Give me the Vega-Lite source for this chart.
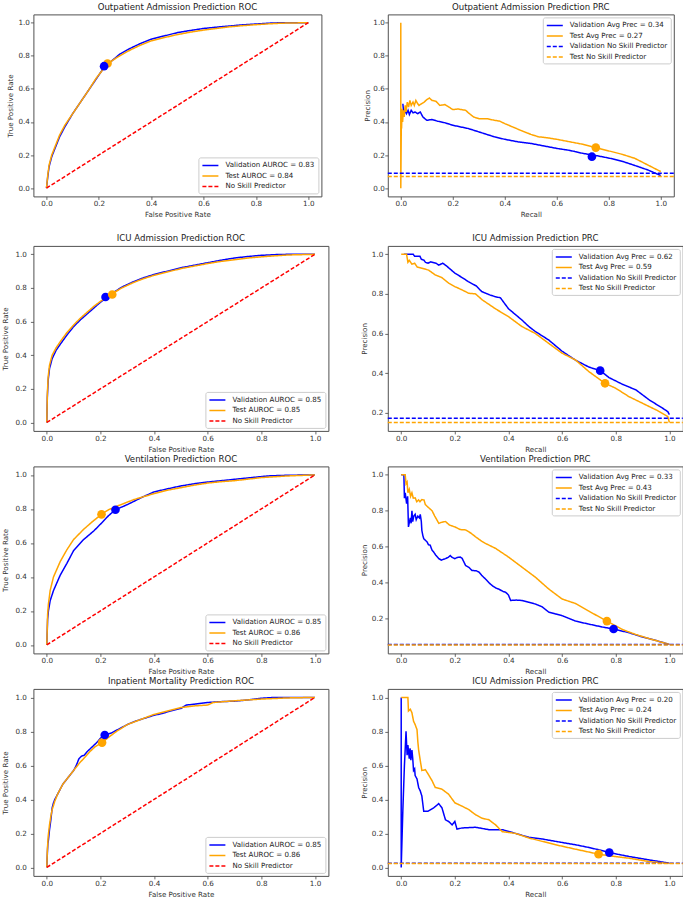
{
"$schema": "https://vega.github.io/schema/vega-lite/v6.json",
"background": "white",
"padding": {"left": 1.4, "top": 1.4, "right": 0, "bottom": 0},
"config": {
  "view": {"stroke": "#505050", "strokeWidth": 1},
  "axis": {"grid": false, "domain": false, "tickSize": 3, "tickColor": "#444", "tickWidth": 0.8, "labelFont": "DejaVu Sans", "labelFontSize": 7.2, "labelColor": "#333", "titleFont": "DejaVu Sans", "titleFontSize": 7.1, "titleFontWeight": "normal", "titleColor": "#333", "labelFlush": false, "labelOverlap": false},
  "title": {"font": "DejaVu Sans", "fontSize": 8.6, "fontWeight": "normal", "color": "#222", "offset": 3, "anchor": "middle"},
  "legend": {"labelFont": "DejaVu Sans", "labelFontSize": 7.1, "labelColor": "#222", "symbolSize": 64, "symbolStrokeWidth": 1.5, "labelOffset": 14, "rowPadding": 1.5, "padding": 3, "strokeColor": "#cccccc", "fillColor": "rgba(255,255,255,0.85)", "cornerRadius": 2, "offset": 3, "labelLimit": 0}
},
"resolve": {"scale": {"color": "independent", "strokeDash": "independent"}, "legend": {"color": "independent", "strokeDash": "independent"}},
"columns": 2,
"spacing": {"row": 0.5, "column": 30.4},
"concat": [
{
 "title": "Outpatient Admission Prediction ROC",
 "width": 288, "height": 182,
 "data": {"values": [
  {"s":"v","x":0,"y":0},{"s":"v","x":0.005,"y":0.07},{"s":"v","x":0.01,"y":0.13},{"s":"v","x":0.02,"y":0.19},{"s":"v","x":0.03,"y":0.23},{"s":"v","x":0.05,"y":0.31},{"s":"v","x":0.07,"y":0.37},{"s":"v","x":0.1,"y":0.45},{"s":"v","x":0.13,"y":0.52},{"s":"v","x":0.16,"y":0.59},{"s":"v","x":0.19,"y":0.66},{"s":"v","x":0.22,"y":0.73},{"s":"v","x":0.25,"y":0.77},{"s":"v","x":0.28,"y":0.81},{"s":"v","x":0.32,"y":0.845},{"s":"v","x":0.36,"y":0.875},{"s":"v","x":0.4,"y":0.9},{"s":"v","x":0.45,"y":0.92},{"s":"v","x":0.5,"y":0.94},{"s":"v","x":0.55,"y":0.953},{"s":"v","x":0.6,"y":0.965},{"s":"v","x":0.65,"y":0.973},{"s":"v","x":0.7,"y":0.98},{"s":"v","x":0.75,"y":0.987},{"s":"v","x":0.8,"y":0.992},{"s":"v","x":0.85,"y":0.997},{"s":"v","x":0.9,"y":1},{"s":"v","x":1,"y":1},
  {"s":"t","x":0,"y":0},{"s":"t","x":0.005,"y":0.08},{"s":"t","x":0.01,"y":0.14},{"s":"t","x":0.02,"y":0.2},{"s":"t","x":0.03,"y":0.24},{"s":"t","x":0.05,"y":0.32},{"s":"t","x":0.07,"y":0.38},{"s":"t","x":0.1,"y":0.45},{"s":"t","x":0.13,"y":0.52},{"s":"t","x":0.16,"y":0.59},{"s":"t","x":0.19,"y":0.665},{"s":"t","x":0.22,"y":0.725},{"s":"t","x":0.25,"y":0.77},{"s":"t","x":0.28,"y":0.8},{"s":"t","x":0.32,"y":0.835},{"s":"t","x":0.36,"y":0.865},{"s":"t","x":0.4,"y":0.89},{"s":"t","x":0.45,"y":0.91},{"s":"t","x":0.5,"y":0.928},{"s":"t","x":0.55,"y":0.943},{"s":"t","x":0.6,"y":0.955},{"s":"t","x":0.65,"y":0.965},{"s":"t","x":0.7,"y":0.975},{"s":"t","x":0.75,"y":0.982},{"s":"t","x":0.8,"y":0.988},{"s":"t","x":0.85,"y":0.993},{"s":"t","x":0.9,"y":0.997},{"s":"t","x":1,"y":1},
  {"s":"n","x":0,"y":0},{"s":"n","x":1,"y":1},
  {"s":"t","x":0.233,"y":0.753,"m":1},{"s":"v","x":0.22,"y":0.737,"m":1}
 ]},
 "encoding": {
  "x": {"field": "x", "type": "quantitative", "scale": {"domain": [-0.05, 1.05], "nice": false, "zero": false}, "axis": {"values": [0,0.2,0.4,0.6,0.8,1], "format": ".1f", "title": "False Positive Rate", "labelPadding": 0.5, "titlePadding": 3.5}},
  "y": {"field": "y", "type": "quantitative", "scale": {"domain": [-0.05, 1.05], "nice": false, "zero": false}, "axis": {"values": [0,0.2,0.4,0.6,0.8,1], "format": ".1f", "title": "True Positive Rate", "minExtent": 16, "maxExtent": 16, "labelPadding": 1, "titlePadding": 3.5}}
 },
 "layer": [
  {"transform": [{"filter": "!datum.m"}], "mark": {"type": "line", "strokeWidth": 1.5},
   "encoding": {
    "color": {"field": "s", "type": "nominal", "scale": {"domain": ["v","t","n"], "range": ["#0000ff","#ffa500","#ff0000"]}, "legend": {"title": null, "orient": "bottom-right", "symbolType": "M-1,0H3", "labelExpr": "datum.label == 'v' ? 'Validation AUROC = 0.83' : datum.label == 't' ? 'Test AUROC = 0.84' : 'No Skill Predictor'"}},
    "strokeDash": {"field": "s", "type": "nominal", "scale": {"domain": ["v","t","n"], "range": [[1,0],[1,0],[4,2]]}, "legend": {"title": null, "orient": "bottom-right", "symbolType": "M-1,0H3", "labelExpr": "datum.label == 'v' ? 'Validation AUROC = 0.83' : datum.label == 't' ? 'Test AUROC = 0.84' : 'No Skill Predictor'"}}
   }},
  {"transform": [{"filter": "datum.m"}], "mark": {"type": "point", "filled": true, "size": 75, "opacity": 1},
   "encoding": {"color": {"field": "s", "type": "nominal", "scale": {"domain": ["v","t","n"], "range": ["#0000ff","#ffa500","#ff0000"]}, "legend": null}}}
 ]
},
{
 "title": "Outpatient Admission Prediction PRC",
 "width": 286, "height": 182,
 "data": {"values": [
  {"s":"v","x":0.008,"y":0.51},{"s":"v","x":0.012,"y":0.44},{"s":"v","x":0.017,"y":0.47},{"s":"v","x":0.022,"y":0.45},{"s":"v","x":0.028,"y":0.47},{"s":"v","x":0.033,"y":0.445},{"s":"v","x":0.04,"y":0.47},{"s":"v","x":0.047,"y":0.455},{"s":"v","x":0.055,"y":0.46},{"s":"v","x":0.065,"y":0.45},{"s":"v","x":0.075,"y":0.46},{"s":"v","x":0.085,"y":0.43},{"s":"v","x":0.1,"y":0.41},{"s":"v","x":0.12,"y":0.415},{"s":"v","x":0.14,"y":0.405},{"s":"v","x":0.17,"y":0.395},{"s":"v","x":0.2,"y":0.38},{"s":"v","x":0.23,"y":0.37},{"s":"v","x":0.26,"y":0.36},{"s":"v","x":0.3,"y":0.34},{"s":"v","x":0.33,"y":0.325},{"s":"v","x":0.36,"y":0.31},{"s":"v","x":0.4,"y":0.295},{"s":"v","x":0.45,"y":0.28},{"s":"v","x":0.5,"y":0.27},{"s":"v","x":0.55,"y":0.255},{"s":"v","x":0.6,"y":0.24},{"s":"v","x":0.65,"y":0.228},{"s":"v","x":0.7,"y":0.21},{"s":"v","x":0.74,"y":0.2},{"s":"v","x":0.78,"y":0.188},{"s":"v","x":0.82,"y":0.175},{"s":"v","x":0.86,"y":0.158},{"s":"v","x":0.9,"y":0.137},{"s":"v","x":0.95,"y":0.11},{"s":"v","x":1,"y":0.076},
  {"s":"t","x":0,"y":1},{"s":"t","x":0,"y":0},{"s":"t","x":0.002,"y":0.38},{"s":"t","x":0.003,"y":0.36},{"s":"t","x":0.005,"y":0.48},{"s":"t","x":0.007,"y":0.4},{"s":"t","x":0.01,"y":0.47},{"s":"t","x":0.013,"y":0.43},{"s":"t","x":0.017,"y":0.5},{"s":"t","x":0.02,"y":0.46},{"s":"t","x":0.025,"y":0.52},{"s":"t","x":0.03,"y":0.49},{"s":"t","x":0.035,"y":0.53},{"s":"t","x":0.04,"y":0.5},{"s":"t","x":0.047,"y":0.52},{"s":"t","x":0.052,"y":0.5},{"s":"t","x":0.058,"y":0.53},{"s":"t","x":0.065,"y":0.51},{"s":"t","x":0.07,"y":0.5},{"s":"t","x":0.08,"y":0.51},{"s":"t","x":0.09,"y":0.52},{"s":"t","x":0.1,"y":0.535},{"s":"t","x":0.11,"y":0.545},{"s":"t","x":0.12,"y":0.53},{"s":"t","x":0.135,"y":0.525},{"s":"t","x":0.15,"y":0.5},{"s":"t","x":0.17,"y":0.505},{"s":"t","x":0.185,"y":0.49},{"s":"t","x":0.2,"y":0.475},{"s":"t","x":0.22,"y":0.478},{"s":"t","x":0.25,"y":0.47},{"s":"t","x":0.26,"y":0.455},{"s":"t","x":0.28,"y":0.43},{"s":"t","x":0.3,"y":0.42},{"s":"t","x":0.33,"y":0.42},{"s":"t","x":0.36,"y":0.41},{"s":"t","x":0.38,"y":0.405},{"s":"t","x":0.4,"y":0.39},{"s":"t","x":0.43,"y":0.37},{"s":"t","x":0.46,"y":0.35},{"s":"t","x":0.5,"y":0.325},{"s":"t","x":0.53,"y":0.31},{"s":"t","x":0.56,"y":0.305},{"s":"t","x":0.6,"y":0.295},{"s":"t","x":0.65,"y":0.28},{"s":"t","x":0.7,"y":0.265},{"s":"t","x":0.75,"y":0.245},{"s":"t","x":0.8,"y":0.225},{"s":"t","x":0.85,"y":0.205},{"s":"t","x":0.9,"y":0.18},{"s":"t","x":0.95,"y":0.14},{"s":"t","x":1,"y":0.1},
  {"s":"vn","x":-0.05,"y":0.09},{"s":"vn","x":1.05,"y":0.09},
  {"s":"tn","x":-0.05,"y":0.07},{"s":"tn","x":1.05,"y":0.07},
  {"s":"v","x":0.735,"y":0.19,"m":1},{"s":"t","x":0.75,"y":0.245,"m":1}
 ]},
 "encoding": {
  "x": {"field": "x", "type": "quantitative", "scale": {"domain": [-0.05, 1.05], "nice": false, "zero": false}, "axis": {"values": [0,0.2,0.4,0.6,0.8,1], "format": ".1f", "title": "Recall", "labelPadding": 0.5, "titlePadding": 3.5}},
  "y": {"field": "y", "type": "quantitative", "scale": {"domain": [-0.05, 1.05], "nice": false, "zero": false}, "axis": {"values": [0,0.2,0.4,0.6,0.8,1], "format": ".1f", "title": "Precision", "minExtent": 15, "maxExtent": 15, "labelPadding": 0.5, "titlePadding": 2.5}}
 },
 "layer": [
  {"transform": [{"filter": "!datum.m"}], "mark": {"type": "line", "strokeWidth": 1.5},
   "encoding": {
    "color": {"field": "s", "type": "nominal", "scale": {"domain": ["v","t","vn","tn"], "range": ["#0000ff","#ffa500","#0000ff","#ffa500"]}, "legend": {"title": null, "orient": "top-right", "symbolType": "M-1,0H3", "labelExpr": "datum.label == 'v' ? 'Validation Avg Prec = 0.34' : datum.label == 't' ? 'Test Avg Prec = 0.27' : datum.label == 'vn' ? 'Validation No Skill Predictor' : 'Test No Skill Predictor'"}},
    "strokeDash": {"field": "s", "type": "nominal", "scale": {"domain": ["v","t","vn","tn"], "range": [[1,0],[1,0],[4,2],[4,2]]}, "legend": {"title": null, "orient": "top-right", "symbolType": "M-1,0H3", "labelExpr": "datum.label == 'v' ? 'Validation Avg Prec = 0.34' : datum.label == 't' ? 'Test Avg Prec = 0.27' : datum.label == 'vn' ? 'Validation No Skill Predictor' : 'Test No Skill Predictor'"}}
   }},
  {"transform": [{"filter": "datum.m"}], "mark": {"type": "point", "filled": true, "size": 75, "opacity": 1},
   "encoding": {"color": {"field": "s", "type": "nominal", "scale": {"domain": ["v","t","vn","tn"], "range": ["#0000ff","#ffa500","#0000ff","#ffa500"]}, "legend": null}}}
 ]
},
{
 "title": {"text": ["", "ICU Admission Prediction ROC"], "lineHeight": 14.5},
 "width": 295, "height": 185,
 "data": {"values": [
  {"s":"v","x":0,"y":0},{"s":"v","x":0.002,"y":0.15},{"s":"v","x":0.005,"y":0.25},{"s":"v","x":0.01,"y":0.32},{"s":"v","x":0.02,"y":0.38},{"s":"v","x":0.035,"y":0.43},{"s":"v","x":0.05,"y":0.465},{"s":"v","x":0.075,"y":0.52},{"s":"v","x":0.1,"y":0.57},{"s":"v","x":0.125,"y":0.61},{"s":"v","x":0.15,"y":0.645},{"s":"v","x":0.175,"y":0.68},{"s":"v","x":0.2,"y":0.715},{"s":"v","x":0.225,"y":0.745},{"s":"v","x":0.25,"y":0.775},{"s":"v","x":0.28,"y":0.805},{"s":"v","x":0.32,"y":0.835},{"s":"v","x":0.36,"y":0.86},{"s":"v","x":0.4,"y":0.88},{"s":"v","x":0.45,"y":0.9},{"s":"v","x":0.5,"y":0.92},{"s":"v","x":0.55,"y":0.935},{"s":"v","x":0.6,"y":0.95},{"s":"v","x":0.65,"y":0.965},{"s":"v","x":0.7,"y":0.978},{"s":"v","x":0.75,"y":0.987},{"s":"v","x":0.8,"y":0.994},{"s":"v","x":0.85,"y":0.998},{"s":"v","x":0.9,"y":1},{"s":"v","x":1,"y":1},
  {"s":"t","x":0,"y":0},{"s":"t","x":0.002,"y":0.17},{"s":"t","x":0.005,"y":0.27},{"s":"t","x":0.01,"y":0.34},{"s":"t","x":0.02,"y":0.4},{"s":"t","x":0.035,"y":0.445},{"s":"t","x":0.05,"y":0.48},{"s":"t","x":0.075,"y":0.535},{"s":"t","x":0.1,"y":0.58},{"s":"t","x":0.125,"y":0.62},{"s":"t","x":0.15,"y":0.655},{"s":"t","x":0.175,"y":0.69},{"s":"t","x":0.2,"y":0.72},{"s":"t","x":0.225,"y":0.748},{"s":"t","x":0.25,"y":0.772},{"s":"t","x":0.28,"y":0.8},{"s":"t","x":0.32,"y":0.83},{"s":"t","x":0.36,"y":0.855},{"s":"t","x":0.4,"y":0.875},{"s":"t","x":0.45,"y":0.895},{"s":"t","x":0.5,"y":0.915},{"s":"t","x":0.55,"y":0.93},{"s":"t","x":0.6,"y":0.945},{"s":"t","x":0.65,"y":0.958},{"s":"t","x":0.7,"y":0.968},{"s":"t","x":0.75,"y":0.978},{"s":"t","x":0.8,"y":0.985},{"s":"t","x":0.85,"y":0.991},{"s":"t","x":0.9,"y":0.996},{"s":"t","x":1,"y":1},
  {"s":"n","x":0,"y":0},{"s":"n","x":1,"y":1},
  {"s":"v","x":0.219,"y":0.746,"m":1},{"s":"t","x":0.244,"y":0.761,"m":1}
 ]},
 "encoding": {
  "x": {"field": "x", "type": "quantitative", "scale": {"domain": [-0.05, 1.05], "nice": false, "zero": false}, "axis": {"values": [0,0.2,0.4,0.6,0.8,1], "format": ".1f", "title": "False Positive Rate", "labelPadding": 0.5, "titlePadding": 3.5}},
  "y": {"field": "y", "type": "quantitative", "scale": {"domain": [-0.05, 1.05], "nice": false, "zero": false}, "axis": {"values": [0,0.2,0.4,0.6,0.8,1], "format": ".1f", "title": "True Positive Rate", "minExtent": 21, "maxExtent": 21, "labelPadding": 4, "titlePadding": 3.5}}
 },
 "layer": [
  {"transform": [{"filter": "!datum.m"}], "mark": {"type": "line", "strokeWidth": 1.5},
   "encoding": {
    "color": {"field": "s", "type": "nominal", "scale": {"domain": ["v","t","n"], "range": ["#0000ff","#ffa500","#ff0000"]}, "legend": {"title": null, "orient": "bottom-right", "symbolType": "M-1,0H3", "labelExpr": "datum.label == 'v' ? 'Validation AUROC = 0.85' : datum.label == 't' ? 'Test AUROC = 0.85' : 'No Skill Predictor'"}},
    "strokeDash": {"field": "s", "type": "nominal", "scale": {"domain": ["v","t","n"], "range": [[1,0],[1,0],[4,2]]}, "legend": {"title": null, "orient": "bottom-right", "symbolType": "M-1,0H3", "labelExpr": "datum.label == 'v' ? 'Validation AUROC = 0.85' : datum.label == 't' ? 'Test AUROC = 0.85' : 'No Skill Predictor'"}}
   }},
  {"transform": [{"filter": "datum.m"}], "mark": {"type": "point", "filled": true, "size": 75, "opacity": 1},
   "encoding": {"color": {"field": "s", "type": "nominal", "scale": {"domain": ["v","t","n"], "range": ["#0000ff","#ffa500","#ff0000"]}, "legend": null}}}
 ]
},
{
 "title": {"text": ["", "ICU Admission Prediction PRC"], "lineHeight": 14.5},
 "width": 295, "height": 185,
 "data": {"values": [
  {"s":"v","x":0.01,"y":1},{"s":"v","x":0.045,"y":1},{"s":"v","x":0.05,"y":0.99},{"s":"v","x":0.07,"y":0.99},{"s":"v","x":0.075,"y":0.975},{"s":"v","x":0.085,"y":0.97},{"s":"v","x":0.09,"y":0.96},{"s":"v","x":0.1,"y":0.955},{"s":"v","x":0.11,"y":0.962},{"s":"v","x":0.13,"y":0.955},{"s":"v","x":0.14,"y":0.945},{"s":"v","x":0.155,"y":0.955},{"s":"v","x":0.17,"y":0.94},{"s":"v","x":0.2,"y":0.905},{"s":"v","x":0.23,"y":0.88},{"s":"v","x":0.25,"y":0.862},{"s":"v","x":0.28,"y":0.84},{"s":"v","x":0.3,"y":0.812},{"s":"v","x":0.33,"y":0.795},{"s":"v","x":0.35,"y":0.786},{"s":"v","x":0.37,"y":0.78},{"s":"v","x":0.4,"y":0.725},{"s":"v","x":0.45,"y":0.668},{"s":"v","x":0.476,"y":0.635},{"s":"v","x":0.5,"y":0.61},{"s":"v","x":0.55,"y":0.567},{"s":"v","x":0.6,"y":0.51},{"s":"v","x":0.65,"y":0.465},{"s":"v","x":0.7,"y":0.43},{"s":"v","x":0.742,"y":0.412},{"s":"v","x":0.775,"y":0.377},{"s":"v","x":0.825,"y":0.343},{"s":"v","x":0.875,"y":0.315},{"s":"v","x":0.925,"y":0.264},{"s":"v","x":0.975,"y":0.222},{"s":"v","x":0.994,"y":0.205},{"s":"v","x":1,"y":0.19},
  {"s":"t","x":0,"y":1},{"s":"t","x":0.02,"y":1},{"s":"t","x":0.025,"y":0.96},{"s":"t","x":0.03,"y":0.97},{"s":"t","x":0.04,"y":0.95},{"s":"t","x":0.05,"y":0.955},{"s":"t","x":0.06,"y":0.935},{"s":"t","x":0.077,"y":0.93},{"s":"t","x":0.102,"y":0.92},{"s":"t","x":0.127,"y":0.896},{"s":"t","x":0.152,"y":0.882},{"s":"t","x":0.177,"y":0.854},{"s":"t","x":0.2,"y":0.837},{"s":"t","x":0.227,"y":0.82},{"s":"t","x":0.252,"y":0.803},{"s":"t","x":0.277,"y":0.8},{"s":"t","x":0.302,"y":0.77},{"s":"t","x":0.352,"y":0.724},{"s":"t","x":0.4,"y":0.685},{"s":"t","x":0.45,"y":0.635},{"s":"t","x":0.5,"y":0.6},{"s":"t","x":0.55,"y":0.55},{"s":"t","x":0.6,"y":0.5},{"s":"t","x":0.65,"y":0.466},{"s":"t","x":0.7,"y":0.407},{"s":"t","x":0.76,"y":0.348},{"s":"t","x":0.8,"y":0.323},{"s":"t","x":0.85,"y":0.28},{"s":"t","x":0.9,"y":0.247},{"s":"t","x":0.95,"y":0.214},{"s":"t","x":0.994,"y":0.18},{"s":"t","x":1,"y":0.15},
  {"s":"vn","x":-0.05,"y":0.172},{"s":"vn","x":1.05,"y":0.172},
  {"s":"tn","x":-0.05,"y":0.15},{"s":"tn","x":1.05,"y":0.15},
  {"s":"v","x":0.742,"y":0.412,"m":1},{"s":"t","x":0.76,"y":0.348,"m":1}
 ]},
 "encoding": {
  "x": {"field": "x", "type": "quantitative", "scale": {"domain": [-0.05, 1.05], "nice": false, "zero": false}, "axis": {"values": [0,0.2,0.4,0.6,0.8,1], "format": ".1f", "title": "Recall", "labelPadding": 0.5, "titlePadding": 3.5}},
  "y": {"field": "y", "type": "quantitative", "scale": {"domain": [0.1075, 1.0425], "nice": false, "zero": false}, "axis": {"values": [0.2,0.4,0.6,0.8,1], "format": ".1f", "title": "Precision", "minExtent": 17, "maxExtent": 17, "labelPadding": 2, "titlePadding": 3.5}}
 },
 "layer": [
  {"transform": [{"filter": "!datum.m"}], "mark": {"type": "line", "strokeWidth": 1.5},
   "encoding": {
    "color": {"field": "s", "type": "nominal", "scale": {"domain": ["v","t","vn","tn"], "range": ["#0000ff","#ffa500","#0000ff","#ffa500"]}, "legend": {"title": null, "orient": "top-right", "symbolType": "M-1,0H3", "labelExpr": "datum.label == 'v' ? 'Validation Avg Prec = 0.62' : datum.label == 't' ? 'Test Avg Prec = 0.59' : datum.label == 'vn' ? 'Validation No Skill Predictor' : 'Test No Skill Predictor'"}},
    "strokeDash": {"field": "s", "type": "nominal", "scale": {"domain": ["v","t","vn","tn"], "range": [[1,0],[1,0],[4,2],[4,2]]}, "legend": {"title": null, "orient": "top-right", "symbolType": "M-1,0H3", "labelExpr": "datum.label == 'v' ? 'Validation Avg Prec = 0.62' : datum.label == 't' ? 'Test Avg Prec = 0.59' : datum.label == 'vn' ? 'Validation No Skill Predictor' : 'Test No Skill Predictor'"}}
   }},
  {"transform": [{"filter": "datum.m"}], "mark": {"type": "point", "filled": true, "size": 75, "opacity": 1},
   "encoding": {"color": {"field": "s", "type": "nominal", "scale": {"domain": ["v","t","vn","tn"], "range": ["#0000ff","#ffa500","#0000ff","#ffa500"]}, "legend": null}}}
 ]
},
{
 "title": "Ventilation Prediction ROC",
 "width": 295, "height": 187,
 "data": {"values": [
  {"s":"v","x":0,"y":0},{"s":"v","x":0.003,"y":0.15},{"s":"v","x":0.006,"y":0.2},{"s":"v","x":0.0125,"y":0.26},{"s":"v","x":0.025,"y":0.32},{"s":"v","x":0.05,"y":0.41},{"s":"v","x":0.075,"y":0.48},{"s":"v","x":0.1,"y":0.555},{"s":"v","x":0.1375,"y":0.62},{"s":"v","x":0.175,"y":0.67},{"s":"v","x":0.2,"y":0.71},{"s":"v","x":0.23,"y":0.76},{"s":"v","x":0.256,"y":0.795},{"s":"v","x":0.3,"y":0.825},{"s":"v","x":0.36,"y":0.872},{"s":"v","x":0.4,"y":0.9},{"s":"v","x":0.45,"y":0.918},{"s":"v","x":0.5,"y":0.935},{"s":"v","x":0.55,"y":0.948},{"s":"v","x":0.6,"y":0.958},{"s":"v","x":0.65,"y":0.966},{"s":"v","x":0.7,"y":0.974},{"s":"v","x":0.75,"y":0.982},{"s":"v","x":0.825,"y":0.994},{"s":"v","x":0.9,"y":0.998},{"s":"v","x":1,"y":1},
  {"s":"t","x":0,"y":0},{"s":"t","x":0.003,"y":0.18},{"s":"t","x":0.006,"y":0.24},{"s":"t","x":0.0125,"y":0.32},{"s":"t","x":0.025,"y":0.4},{"s":"t","x":0.05,"y":0.49},{"s":"t","x":0.075,"y":0.56},{"s":"t","x":0.1,"y":0.62},{"s":"t","x":0.1375,"y":0.68},{"s":"t","x":0.17,"y":0.725},{"s":"t","x":0.204,"y":0.768},{"s":"t","x":0.23,"y":0.795},{"s":"t","x":0.26,"y":0.815},{"s":"t","x":0.325,"y":0.855},{"s":"t","x":0.4,"y":0.89},{"s":"t","x":0.45,"y":0.91},{"s":"t","x":0.5,"y":0.925},{"s":"t","x":0.55,"y":0.94},{"s":"t","x":0.6,"y":0.952},{"s":"t","x":0.65,"y":0.96},{"s":"t","x":0.7,"y":0.966},{"s":"t","x":0.75,"y":0.975},{"s":"t","x":0.8,"y":0.984},{"s":"t","x":0.9,"y":0.994},{"s":"t","x":1,"y":1},
  {"s":"n","x":0,"y":0},{"s":"n","x":1,"y":1},
  {"s":"v","x":0.256,"y":0.795,"m":1},{"s":"t","x":0.204,"y":0.768,"m":1}
 ]},
 "encoding": {
  "x": {"field": "x", "type": "quantitative", "scale": {"domain": [-0.05, 1.05], "nice": false, "zero": false}, "axis": {"values": [0,0.2,0.4,0.6,0.8,1], "format": ".1f", "title": "False Positive Rate", "labelPadding": 0.5, "titlePadding": 3.5}},
  "y": {"field": "y", "type": "quantitative", "scale": {"domain": [-0.05, 1.05], "nice": false, "zero": false}, "axis": {"values": [0,0.2,0.4,0.6,0.8,1], "format": ".1f", "title": "True Positive Rate", "minExtent": 21, "maxExtent": 21, "labelPadding": 4, "titlePadding": 3.5}}
 },
 "layer": [
  {"transform": [{"filter": "!datum.m"}], "mark": {"type": "line", "strokeWidth": 1.5},
   "encoding": {
    "color": {"field": "s", "type": "nominal", "scale": {"domain": ["v","t","n"], "range": ["#0000ff","#ffa500","#ff0000"]}, "legend": {"title": null, "orient": "bottom-right", "symbolType": "M-1,0H3", "labelExpr": "datum.label == 'v' ? 'Validation AUROC = 0.85' : datum.label == 't' ? 'Test AUROC = 0.86' : 'No Skill Predictor'"}},
    "strokeDash": {"field": "s", "type": "nominal", "scale": {"domain": ["v","t","n"], "range": [[1,0],[1,0],[4,2]]}, "legend": {"title": null, "orient": "bottom-right", "symbolType": "M-1,0H3", "labelExpr": "datum.label == 'v' ? 'Validation AUROC = 0.85' : datum.label == 't' ? 'Test AUROC = 0.86' : 'No Skill Predictor'"}}
   }},
  {"transform": [{"filter": "datum.m"}], "mark": {"type": "point", "filled": true, "size": 75, "opacity": 1},
   "encoding": {"color": {"field": "s", "type": "nominal", "scale": {"domain": ["v","t","n"], "range": ["#0000ff","#ffa500","#ff0000"]}, "legend": null}}}
 ]
},
{
 "title": "Ventilation Prediction PRC",
 "width": 295, "height": 187,
 "data": {"values": [
  {"s":"v","x":0,"y":1},{"s":"v","x":0.01,"y":1},{"s":"v","x":0.012,"y":0.87},{"s":"v","x":0.015,"y":0.9},{"s":"v","x":0.02,"y":0.84},{"s":"v","x":0.024,"y":0.88},{"s":"v","x":0.027,"y":0.71},{"s":"v","x":0.031,"y":0.74},{"s":"v","x":0.034,"y":0.76},{"s":"v","x":0.037,"y":0.73},{"s":"v","x":0.04,"y":0.8},{"s":"v","x":0.043,"y":0.74},{"s":"v","x":0.047,"y":0.77},{"s":"v","x":0.052,"y":0.78},{"s":"v","x":0.056,"y":0.75},{"s":"v","x":0.062,"y":0.77},{"s":"v","x":0.068,"y":0.76},{"s":"v","x":0.071,"y":0.78},{"s":"v","x":0.075,"y":0.74},{"s":"v","x":0.077,"y":0.69},{"s":"v","x":0.081,"y":0.66},{"s":"v","x":0.084,"y":0.645},{"s":"v","x":0.09,"y":0.635},{"s":"v","x":0.096,"y":0.627},{"s":"v","x":0.102,"y":0.61},{"s":"v","x":0.108,"y":0.608},{"s":"v","x":0.115,"y":0.58},{"s":"v","x":0.121,"y":0.57},{"s":"v","x":0.13,"y":0.55},{"s":"v","x":0.14,"y":0.533},{"s":"v","x":0.15,"y":0.525},{"s":"v","x":0.165,"y":0.533},{"s":"v","x":0.175,"y":0.54},{"s":"v","x":0.183,"y":0.55},{"s":"v","x":0.19,"y":0.54},{"s":"v","x":0.2,"y":0.533},{"s":"v","x":0.21,"y":0.54},{"s":"v","x":0.22,"y":0.542},{"s":"v","x":0.227,"y":0.535},{"s":"v","x":0.24,"y":0.495},{"s":"v","x":0.252,"y":0.485},{"s":"v","x":0.264,"y":0.467},{"s":"v","x":0.28,"y":0.465},{"s":"v","x":0.29,"y":0.458},{"s":"v","x":0.3,"y":0.44},{"s":"v","x":0.314,"y":0.42},{"s":"v","x":0.33,"y":0.395},{"s":"v","x":0.34,"y":0.382},{"s":"v","x":0.352,"y":0.37},{"s":"v","x":0.364,"y":0.363},{"s":"v","x":0.38,"y":0.35},{"s":"v","x":0.39,"y":0.345},{"s":"v","x":0.4,"y":0.33},{"s":"v","x":0.408,"y":0.3},{"s":"v","x":0.43,"y":0.302},{"s":"v","x":0.45,"y":0.3},{"s":"v","x":0.475,"y":0.29},{"s":"v","x":0.5,"y":0.28},{"s":"v","x":0.525,"y":0.265},{"s":"v","x":0.55,"y":0.235},{"s":"v","x":0.575,"y":0.225},{"s":"v","x":0.6,"y":0.215},{"s":"v","x":0.625,"y":0.2},{"s":"v","x":0.65,"y":0.185},{"s":"v","x":0.7,"y":0.168},{"s":"v","x":0.75,"y":0.152},{"s":"v","x":0.792,"y":0.141},{"s":"v","x":0.85,"y":0.12},{"s":"v","x":0.9,"y":0.096},{"s":"v","x":0.95,"y":0.077},{"s":"v","x":1,"y":0.055},
  {"s":"t","x":0,"y":1},{"s":"t","x":0.015,"y":1},{"s":"t","x":0.018,"y":0.95},{"s":"t","x":0.022,"y":0.96},{"s":"t","x":0.025,"y":0.9},{"s":"t","x":0.03,"y":0.92},{"s":"t","x":0.035,"y":0.88},{"s":"t","x":0.04,"y":0.9},{"s":"t","x":0.045,"y":0.87},{"s":"t","x":0.052,"y":0.872},{"s":"t","x":0.058,"y":0.85},{"s":"t","x":0.065,"y":0.86},{"s":"t","x":0.07,"y":0.85},{"s":"t","x":0.077,"y":0.862},{"s":"t","x":0.085,"y":0.86},{"s":"t","x":0.09,"y":0.834},{"s":"t","x":0.1,"y":0.82},{"s":"t","x":0.115,"y":0.8},{"s":"t","x":0.125,"y":0.77},{"s":"t","x":0.14,"y":0.73},{"s":"t","x":0.15,"y":0.735},{"s":"t","x":0.165,"y":0.74},{"s":"t","x":0.18,"y":0.72},{"s":"t","x":0.2,"y":0.71},{"s":"t","x":0.22,"y":0.695},{"s":"t","x":0.24,"y":0.693},{"s":"t","x":0.26,"y":0.675},{"s":"t","x":0.277,"y":0.655},{"s":"t","x":0.3,"y":0.63},{"s":"t","x":0.314,"y":0.618},{"s":"t","x":0.352,"y":0.59},{"s":"t","x":0.4,"y":0.542},{"s":"t","x":0.45,"y":0.486},{"s":"t","x":0.5,"y":0.43},{"s":"t","x":0.55,"y":0.364},{"s":"t","x":0.6,"y":0.308},{"s":"t","x":0.65,"y":0.283},{"s":"t","x":0.7,"y":0.24},{"s":"t","x":0.767,"y":0.185},{"s":"t","x":0.825,"y":0.138},{"s":"t","x":0.875,"y":0.11},{"s":"t","x":0.925,"y":0.087},{"s":"t","x":1,"y":0.055},
  {"s":"vn","x":-0.05,"y":0.054},{"s":"vn","x":1.05,"y":0.054},
  {"s":"tn","x":-0.05,"y":0.052},{"s":"tn","x":1.05,"y":0.052},
  {"s":"v","x":0.792,"y":0.141,"m":1},{"s":"t","x":0.767,"y":0.185,"m":1}
 ]},
 "encoding": {
  "x": {"field": "x", "type": "quantitative", "scale": {"domain": [-0.05, 1.05], "nice": false, "zero": false}, "axis": {"values": [0,0.2,0.4,0.6,0.8,1], "format": ".1f", "title": "Recall", "labelPadding": 0.5, "titlePadding": 3.5}},
  "y": {"field": "y", "type": "quantitative", "scale": {"domain": [0.005, 1.047], "nice": false, "zero": false}, "axis": {"values": [0.2,0.4,0.6,0.8,1], "format": ".1f", "title": "Precision", "minExtent": 17, "maxExtent": 17, "labelPadding": 2, "titlePadding": 3.5}}
 },
 "layer": [
  {"transform": [{"filter": "!datum.m"}], "mark": {"type": "line", "strokeWidth": 1.5},
   "encoding": {
    "color": {"field": "s", "type": "nominal", "scale": {"domain": ["v","t","vn","tn"], "range": ["#0000ff","#ffa500","#0000ff","#ffa500"]}, "legend": {"title": null, "orient": "top-right", "symbolType": "M-1,0H3", "labelExpr": "datum.label == 'v' ? 'Validation Avg Prec = 0.33' : datum.label == 't' ? 'Test Avg Prec = 0.43' : datum.label == 'vn' ? 'Validation No Skill Predictor' : 'Test No Skill Predictor'"}},
    "strokeDash": {"field": "s", "type": "nominal", "scale": {"domain": ["v","t","vn","tn"], "range": [[1,0],[1,0],[4,2],[4,2]]}, "legend": {"title": null, "orient": "top-right", "symbolType": "M-1,0H3", "labelExpr": "datum.label == 'v' ? 'Validation Avg Prec = 0.33' : datum.label == 't' ? 'Test Avg Prec = 0.43' : datum.label == 'vn' ? 'Validation No Skill Predictor' : 'Test No Skill Predictor'"}}
   }},
  {"transform": [{"filter": "datum.m"}], "mark": {"type": "point", "filled": true, "size": 75, "opacity": 1},
   "encoding": {"color": {"field": "s", "type": "nominal", "scale": {"domain": ["v","t","vn","tn"], "range": ["#0000ff","#ffa500","#0000ff","#ffa500"]}, "legend": null}}}
 ]
},
{
 "title": "Inpatient Mortality Prediction ROC",
 "width": 295, "height": 187,
 "data": {"values": [
  {"s":"v","x":0,"y":0},{"s":"v","x":0.002,"y":0.08},{"s":"v","x":0.004,"y":0.14},{"s":"v","x":0.006,"y":0.16},{"s":"v","x":0.01,"y":0.22},{"s":"v","x":0.015,"y":0.28},{"s":"v","x":0.02,"y":0.35},{"s":"v","x":0.025,"y":0.38},{"s":"v","x":0.03,"y":0.4},{"s":"v","x":0.04,"y":0.43},{"s":"v","x":0.05,"y":0.46},{"s":"v","x":0.06,"y":0.49},{"s":"v","x":0.075,"y":0.52},{"s":"v","x":0.09,"y":0.55},{"s":"v","x":0.1,"y":0.57},{"s":"v","x":0.11,"y":0.6},{"s":"v","x":0.12,"y":0.64},{"s":"v","x":0.13,"y":0.655},{"s":"v","x":0.14,"y":0.66},{"s":"v","x":0.15,"y":0.68},{"s":"v","x":0.17,"y":0.71},{"s":"v","x":0.19,"y":0.74},{"s":"v","x":0.2,"y":0.76},{"s":"v","x":0.216,"y":0.779},{"s":"v","x":0.24,"y":0.79},{"s":"v","x":0.27,"y":0.815},{"s":"v","x":0.3,"y":0.84},{"s":"v","x":0.33,"y":0.86},{"s":"v","x":0.36,"y":0.875},{"s":"v","x":0.4,"y":0.895},{"s":"v","x":0.43,"y":0.905},{"s":"v","x":0.46,"y":0.92},{"s":"v","x":0.5,"y":0.935},{"s":"v","x":0.52,"y":0.955},{"s":"v","x":0.55,"y":0.96},{"s":"v","x":0.6,"y":0.97},{"s":"v","x":0.65,"y":0.975},{"s":"v","x":0.7,"y":0.978},{"s":"v","x":0.75,"y":0.985},{"s":"v","x":0.8,"y":0.995},{"s":"v","x":0.85,"y":1},{"s":"v","x":1,"y":1},
  {"s":"t","x":0,"y":0},{"s":"t","x":0.002,"y":0.1},{"s":"t","x":0.005,"y":0.18},{"s":"t","x":0.01,"y":0.25},{"s":"t","x":0.015,"y":0.3},{"s":"t","x":0.02,"y":0.34},{"s":"t","x":0.03,"y":0.39},{"s":"t","x":0.04,"y":0.43},{"s":"t","x":0.05,"y":0.46},{"s":"t","x":0.06,"y":0.49},{"s":"t","x":0.075,"y":0.52},{"s":"t","x":0.09,"y":0.55},{"s":"t","x":0.1,"y":0.57},{"s":"t","x":0.12,"y":0.61},{"s":"t","x":0.14,"y":0.645},{"s":"t","x":0.16,"y":0.68},{"s":"t","x":0.18,"y":0.71},{"s":"t","x":0.206,"y":0.734},{"s":"t","x":0.23,"y":0.765},{"s":"t","x":0.26,"y":0.8},{"s":"t","x":0.3,"y":0.84},{"s":"t","x":0.35,"y":0.87},{"s":"t","x":0.4,"y":0.9},{"s":"t","x":0.45,"y":0.92},{"s":"t","x":0.5,"y":0.94},{"s":"t","x":0.55,"y":0.95},{"s":"t","x":0.6,"y":0.955},{"s":"t","x":0.62,"y":0.97},{"s":"t","x":0.7,"y":0.98},{"s":"t","x":0.8,"y":0.99},{"s":"t","x":0.9,"y":0.997},{"s":"t","x":1,"y":1},
  {"s":"n","x":0,"y":0},{"s":"n","x":1,"y":1},
  {"s":"t","x":0.206,"y":0.734,"m":1},{"s":"v","x":0.216,"y":0.779,"m":1}
 ]},
 "encoding": {
  "x": {"field": "x", "type": "quantitative", "scale": {"domain": [-0.05, 1.05], "nice": false, "zero": false}, "axis": {"values": [0,0.2,0.4,0.6,0.8,1], "format": ".1f", "title": "False Positive Rate", "labelPadding": 0.5, "titlePadding": 3.5}},
  "y": {"field": "y", "type": "quantitative", "scale": {"domain": [-0.05, 1.05], "nice": false, "zero": false}, "axis": {"values": [0,0.2,0.4,0.6,0.8,1], "format": ".1f", "title": "True Positive Rate", "minExtent": 21, "maxExtent": 21, "labelPadding": 4, "titlePadding": 3.5}}
 },
 "layer": [
  {"transform": [{"filter": "!datum.m"}], "mark": {"type": "line", "strokeWidth": 1.5},
   "encoding": {
    "color": {"field": "s", "type": "nominal", "scale": {"domain": ["v","t","n"], "range": ["#0000ff","#ffa500","#ff0000"]}, "legend": {"title": null, "orient": "bottom-right", "symbolType": "M-1,0H3", "labelExpr": "datum.label == 'v' ? 'Validation AUROC = 0.85' : datum.label == 't' ? 'Test AUROC = 0.86' : 'No Skill Predictor'"}},
    "strokeDash": {"field": "s", "type": "nominal", "scale": {"domain": ["v","t","n"], "range": [[1,0],[1,0],[4,2]]}, "legend": {"title": null, "orient": "bottom-right", "symbolType": "M-1,0H3", "labelExpr": "datum.label == 'v' ? 'Validation AUROC = 0.85' : datum.label == 't' ? 'Test AUROC = 0.86' : 'No Skill Predictor'"}}
   }},
  {"transform": [{"filter": "datum.m"}], "mark": {"type": "point", "filled": true, "size": 75, "opacity": 1},
   "encoding": {"color": {"field": "s", "type": "nominal", "scale": {"domain": ["v","t","n"], "range": ["#0000ff","#ffa500","#ff0000"]}, "legend": null}}}
 ]
},
{
 "title": "ICU Admission Prediction PRC",
 "width": 295, "height": 187,
 "data": {"values": [
  {"s":"v","x":0,"y":1},{"s":"v","x":0,"y":0},{"s":"v","x":0.006,"y":0.33},{"s":"v","x":0.012,"y":0.6},{"s":"v","x":0.018,"y":0.8},{"s":"v","x":0.022,"y":0.66},{"s":"v","x":0.025,"y":0.72},{"s":"v","x":0.03,"y":0.64},{"s":"v","x":0.033,"y":0.7},{"s":"v","x":0.036,"y":0.63},{"s":"v","x":0.04,"y":0.69},{"s":"v","x":0.043,"y":0.64},{"s":"v","x":0.046,"y":0.57},{"s":"v","x":0.05,"y":0.58},{"s":"v","x":0.052,"y":0.54},{"s":"v","x":0.059,"y":0.52},{"s":"v","x":0.065,"y":0.47},{"s":"v","x":0.071,"y":0.45},{"s":"v","x":0.077,"y":0.42},{"s":"v","x":0.084,"y":0.33},{"s":"v","x":0.1,"y":0.33},{"s":"v","x":0.121,"y":0.35},{"s":"v","x":0.14,"y":0.375},{"s":"v","x":0.152,"y":0.35},{"s":"v","x":0.165,"y":0.28},{"s":"v","x":0.177,"y":0.27},{"s":"v","x":0.19,"y":0.25},{"s":"v","x":0.2,"y":0.27},{"s":"v","x":0.208,"y":0.225},{"s":"v","x":0.227,"y":0.232},{"s":"v","x":0.277,"y":0.236},{"s":"v","x":0.327,"y":0.222},{"s":"v","x":0.377,"y":0.222},{"s":"v","x":0.426,"y":0.2},{"s":"v","x":0.476,"y":0.177},{"s":"v","x":0.526,"y":0.167},{"s":"v","x":0.576,"y":0.153},{"s":"v","x":0.65,"y":0.133},{"s":"v","x":0.7,"y":0.117},{"s":"v","x":0.738,"y":0.103},{"s":"v","x":0.776,"y":0.087},{"s":"v","x":0.85,"y":0.064},{"s":"v","x":0.925,"y":0.044},{"s":"v","x":1,"y":0.025},
  {"s":"t","x":0,"y":1},{"s":"t","x":0.025,"y":1},{"s":"t","x":0.027,"y":0.92},{"s":"t","x":0.034,"y":0.93},{"s":"t","x":0.04,"y":0.91},{"s":"t","x":0.046,"y":0.86},{"s":"t","x":0.052,"y":0.84},{"s":"t","x":0.059,"y":0.81},{"s":"t","x":0.062,"y":0.74},{"s":"t","x":0.065,"y":0.69},{"s":"t","x":0.071,"y":0.63},{"s":"t","x":0.077,"y":0.57},{"s":"t","x":0.09,"y":0.575},{"s":"t","x":0.1,"y":0.55},{"s":"t","x":0.115,"y":0.51},{"s":"t","x":0.127,"y":0.47},{"s":"t","x":0.152,"y":0.46},{"s":"t","x":0.177,"y":0.43},{"s":"t","x":0.2,"y":0.38},{"s":"t","x":0.227,"y":0.36},{"s":"t","x":0.252,"y":0.34},{"s":"t","x":0.277,"y":0.31},{"s":"t","x":0.3,"y":0.29},{"s":"t","x":0.327,"y":0.28},{"s":"t","x":0.352,"y":0.25},{"s":"t","x":0.377,"y":0.21},{"s":"t","x":0.426,"y":0.2},{"s":"t","x":0.476,"y":0.173},{"s":"t","x":0.526,"y":0.153},{"s":"t","x":0.576,"y":0.133},{"s":"t","x":0.65,"y":0.107},{"s":"t","x":0.736,"y":0.078},{"s":"t","x":0.776,"y":0.068},{"s":"t","x":0.85,"y":0.054},{"s":"t","x":0.925,"y":0.034},{"s":"t","x":1,"y":0.023},
  {"s":"vn","x":-0.05,"y":0.025},{"s":"vn","x":1.05,"y":0.025},
  {"s":"tn","x":-0.05,"y":0.023},{"s":"tn","x":1.05,"y":0.023},
  {"s":"t","x":0.736,"y":0.078,"m":1},{"s":"v","x":0.776,"y":0.087,"m":1}
 ]},
 "encoding": {
  "x": {"field": "x", "type": "quantitative", "scale": {"domain": [-0.05, 1.05], "nice": false, "zero": false}, "axis": {"values": [0,0.2,0.4,0.6,0.8,1], "format": ".1f", "title": "Recall", "labelPadding": 0.5, "titlePadding": 3.5}},
  "y": {"field": "y", "type": "quantitative", "scale": {"domain": [-0.05, 1.05], "nice": false, "zero": false}, "axis": {"values": [0,0.2,0.4,0.6,0.8,1], "format": ".1f", "title": "Precision", "minExtent": 17, "maxExtent": 17, "labelPadding": 2, "titlePadding": 3.5}}
 },
 "layer": [
  {"transform": [{"filter": "!datum.m"}], "mark": {"type": "line", "strokeWidth": 1.5},
   "encoding": {
    "color": {"field": "s", "type": "nominal", "scale": {"domain": ["v","t","vn","tn"], "range": ["#0000ff","#ffa500","#0000ff","#ffa500"]}, "legend": {"title": null, "orient": "top-right", "symbolType": "M-1,0H3", "labelExpr": "datum.label == 'v' ? 'Validation Avg Prec = 0.20' : datum.label == 't' ? 'Test Avg Prec = 0.24' : datum.label == 'vn' ? 'Validation No Skill Predictor' : 'Test No Skill Predictor'"}},
    "strokeDash": {"field": "s", "type": "nominal", "scale": {"domain": ["v","t","vn","tn"], "range": [[1,0],[1,0],[4,2],[4,2]]}, "legend": {"title": null, "orient": "top-right", "symbolType": "M-1,0H3", "labelExpr": "datum.label == 'v' ? 'Validation Avg Prec = 0.20' : datum.label == 't' ? 'Test Avg Prec = 0.24' : datum.label == 'vn' ? 'Validation No Skill Predictor' : 'Test No Skill Predictor'"}}
   }},
  {"transform": [{"filter": "datum.m"}], "mark": {"type": "point", "filled": true, "size": 75, "opacity": 1},
   "encoding": {"color": {"field": "s", "type": "nominal", "scale": {"domain": ["v","t","vn","tn"], "range": ["#0000ff","#ffa500","#0000ff","#ffa500"]}, "legend": null}}}
 ]
}
]
}
